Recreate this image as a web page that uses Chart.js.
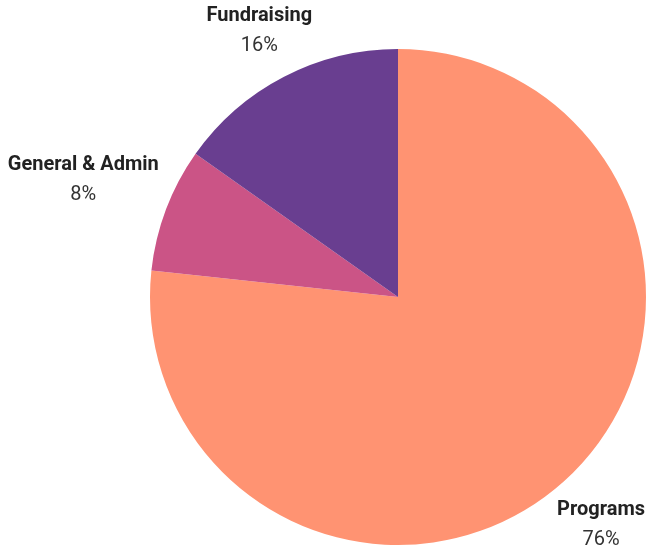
<!DOCTYPE html>
<html>
<head>
<meta charset="utf-8">
<script src="https://cdn.jsdelivr.net/npm/chart.js@4"></script>
<style>
  html, body { margin: 0; padding: 0; background: #fff; }
  #wrap { width: 649px; height: 554px; }
</style>
</head>
<body>
<div id="wrap"><canvas id="grafico"></canvas></div>
<script>
const categorias = ["Programs", "General & Admin", "Fundraising"];
const valores = [76.7, 8.1, 15.2];
const etiquetasPct = ["76%", "8%", "16%"];
const colores = ["#FF9372", "#CB5486", "#693E90"];

// draws each name + percent outside its slice
const etiquetasExternas = {
  id: 'etiquetasExternas',
  afterDatasetsDraw(chart) {
    const ctx = chart.ctx;
    const meta = chart.getDatasetMeta(0);
    meta.data.forEach((arc, i) => {
      const p = arc.getProps(['x', 'y', 'startAngle', 'endAngle', 'outerRadius'], true);
      const mid = (p.startAngle + p.endAngle) / 2;
      const dx = Math.cos(mid), dy = Math.sin(mid);
      ctx.save();
      ctx.font = 'bold 20px Roboto';
      const w1 = ctx.measureText(categorias[i]).width;
      ctx.font = '20px Roboto';
      const w2 = ctx.measureText(etiquetasPct[i]).width;
      const hw = Math.max(w1, w2) / 2, hh = 22;
      const dist = p.outerRadius + 10 + hw * Math.abs(dx) + hh * Math.abs(dy);
      const cx = p.x + dx * dist, cy = p.y + dy * dist;
      ctx.textAlign = 'center';
      ctx.textBaseline = 'alphabetic';
      ctx.fillStyle = '#222';
      ctx.font = 'bold 20px Roboto';
      ctx.fillText(categorias[i], cx, cy - 8);
      ctx.fillStyle = '#333';
      ctx.font = '20px Roboto';
      ctx.fillText(etiquetasPct[i], cx, cy + 22);
      ctx.restore();
    });
  }
};

document.addEventListener('DOMContentLoaded', function() {
  const ctx = document.getElementById('grafico').getContext('2d');
  new Chart(ctx, {
    type: 'pie',
    data: {
      labels: categorias,
      datasets: [{
        data: valores,
        backgroundColor: colores,
        borderWidth: 0
      }]
    },
    options: {
      responsive: true,
      maintainAspectRatio: false,
      animation: false,
      layout: { padding: { left: 150, right: 3, top: 49, bottom: 9 } },
      plugins: {
        legend: { display: false },
        tooltip: { enabled: false }
      }
    },
    plugins: [etiquetasExternas]
  });
});
</script>
</body>
</html>
